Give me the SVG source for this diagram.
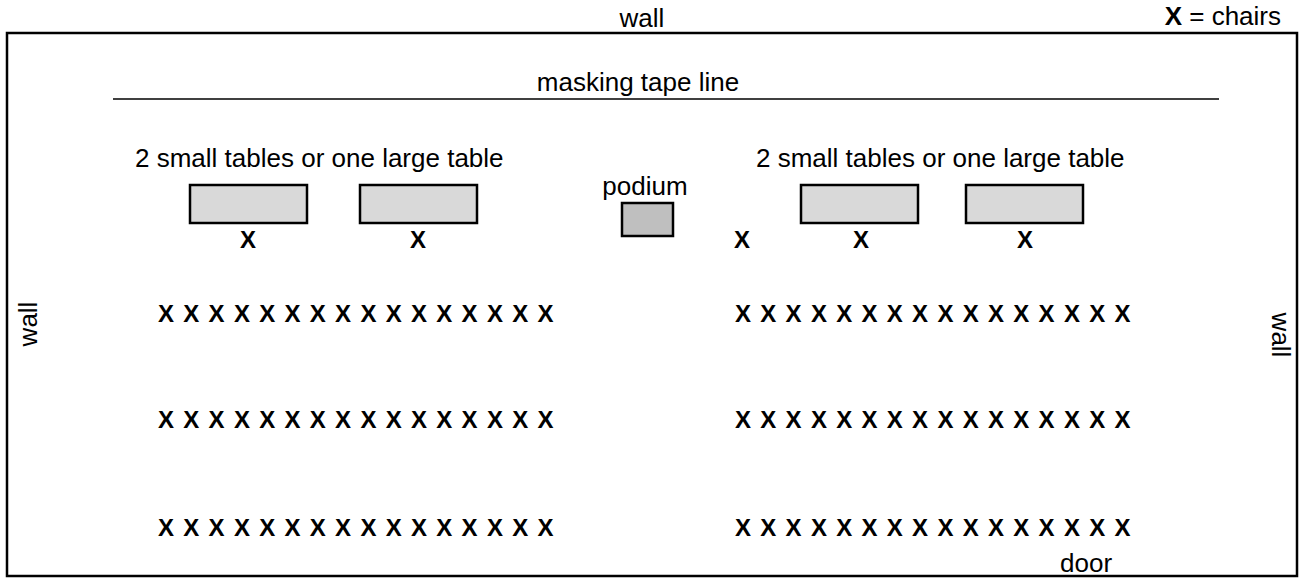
<svg xmlns="http://www.w3.org/2000/svg" width="1300" height="580" viewBox="0 0 1300 580">
<style>
  .t { font-family: "Liberation Sans", Arial, sans-serif; font-size: 26px; fill: #000; }
  .x { font-family: "Liberation Sans", Arial, sans-serif; font-size: 24px; font-weight: bold; fill: #000; }
  .table { fill: #d9d9d9; stroke: #000; stroke-width: 2.5; }
  .podium { fill: #bfbfbf; stroke: #000; stroke-width: 2.5; }
</style>
<rect width="1300" height="580" fill="#fff"/>
<g id="room">
  <rect x="7" y="33" width="1290" height="543" fill="none" stroke="#000" stroke-width="2.5"/>
  <text class="t" x="642" y="27" text-anchor="middle">wall</text>
  <text class="t" transform="translate(37,324) rotate(-90)" text-anchor="middle">wall</text>
  <text class="t" transform="translate(1272,335) rotate(90)" text-anchor="middle">wall</text>
  <text class="t" x="1060" y="572">door</text>
</g>
<g id="legend">
  <text class="t" x="1281" y="25" text-anchor="end"><tspan font-weight="bold">X</tspan> = chairs</text>
</g>
<g id="tape">
  <line x1="113" y1="99" x2="1219" y2="99" stroke="#000" stroke-width="1.5"/>
  <text class="t" x="638" y="91" text-anchor="middle">masking tape line</text>
</g>
<g id="left-tables">
  <text class="t" x="135" y="167">2 small tables or one large table</text>
  <rect class="table" x="190" y="185" width="117" height="38"/>
  <rect class="table" x="360" y="185" width="117" height="38"/>
  <text class="x" x="248" y="248" text-anchor="middle">X</text>
  <text class="x" x="418" y="248" text-anchor="middle">X</text>
</g>
<g id="podium">
  <text class="t" x="645" y="195" text-anchor="middle">podium</text>
  <rect class="podium" x="622" y="203" width="51" height="33"/>
  <text class="x" x="742" y="248" text-anchor="middle">X</text>
</g>
<g id="right-tables">
  <text class="t" x="756" y="167">2 small tables or one large table</text>
  <rect class="table" x="801" y="185" width="117" height="38"/>
  <rect class="table" x="966" y="185" width="117" height="38"/>
  <text class="x" x="861" y="248" text-anchor="middle">X</text>
  <text class="x" x="1025" y="248" text-anchor="middle">X</text>
</g>
<g id="left-rows">
  <text class="x" x="158 183.3 208.6 233.9 259.2 284.5 309.8 335.1 360.4 385.7 411 436.3 461.6 486.9 512.2 537.5" y="322">XXXXXXXXXXXXXXXX</text>
  <text class="x" x="158 183.3 208.6 233.9 259.2 284.5 309.8 335.1 360.4 385.7 411 436.3 461.6 486.9 512.2 537.5" y="428">XXXXXXXXXXXXXXXX</text>
  <text class="x" x="158 183.3 208.6 233.9 259.2 284.5 309.8 335.1 360.4 385.7 411 436.3 461.6 486.9 512.2 537.5" y="536">XXXXXXXXXXXXXXXX</text>
</g>
<g id="right-rows">
  <text class="x" x="735 760.3 785.6 810.9 836.2 861.5 886.8 912.1 937.4 962.7 988 1013.3 1038.6 1063.9 1089.2 1114.5" y="322">XXXXXXXXXXXXXXXX</text>
  <text class="x" x="735 760.3 785.6 810.9 836.2 861.5 886.8 912.1 937.4 962.7 988 1013.3 1038.6 1063.9 1089.2 1114.5" y="428">XXXXXXXXXXXXXXXX</text>
  <text class="x" x="735 760.3 785.6 810.9 836.2 861.5 886.8 912.1 937.4 962.7 988 1013.3 1038.6 1063.9 1089.2 1114.5" y="536">XXXXXXXXXXXXXXXX</text>
</g>
</svg>
